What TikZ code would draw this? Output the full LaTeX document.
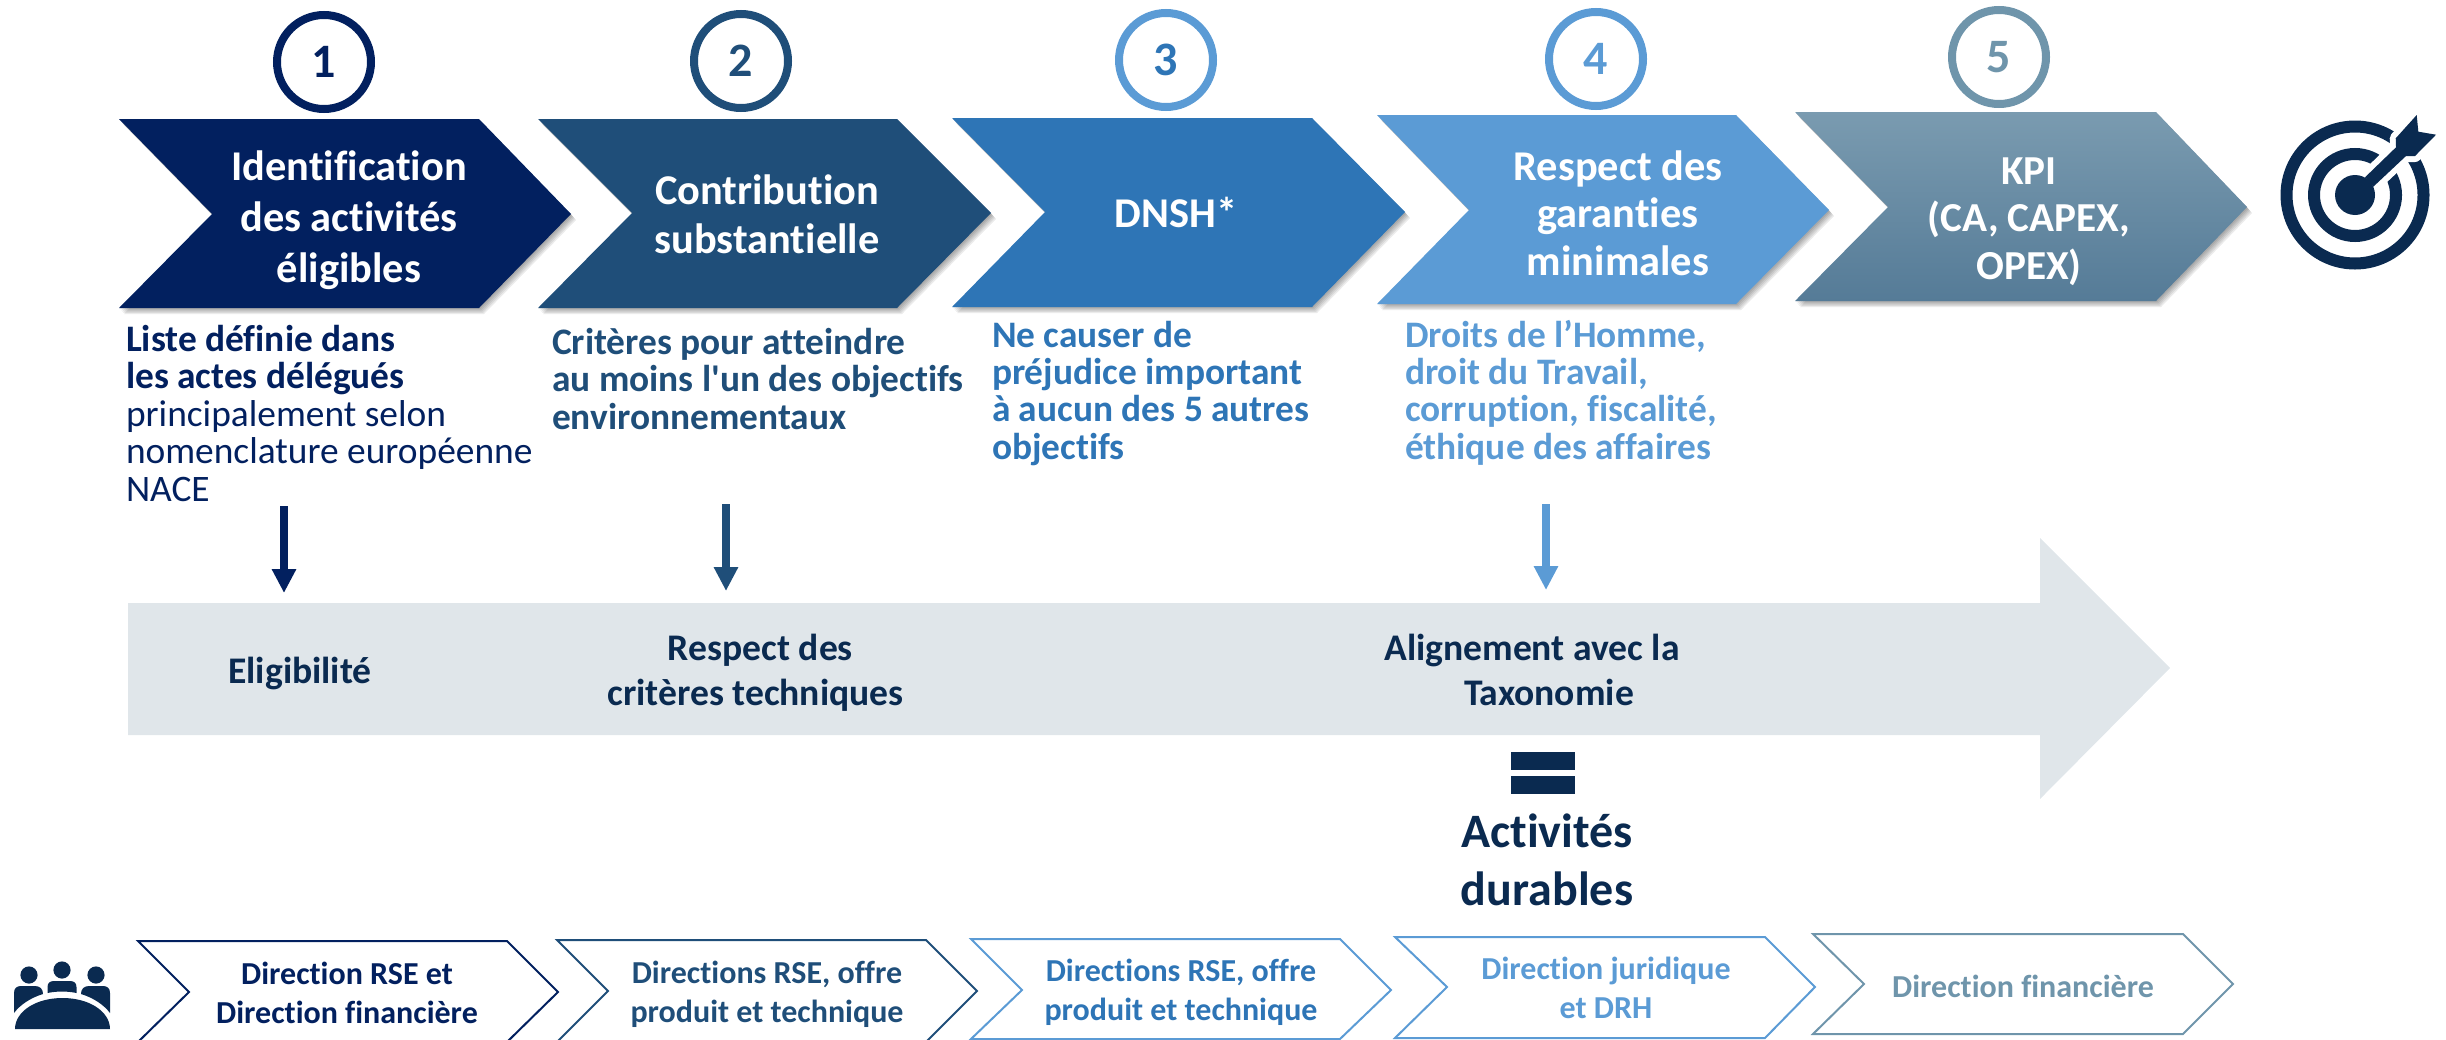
\documentclass[tikz,border=0pt]{standalone}
\usepackage{fontspec}
\setmainfont{Carlito}[Ligatures=NoCommon]
\newfontfamily\plainap{Carlito}[Ligatures=NoCommon]
\usetikzlibrary{arrows.meta}
\definecolor{cA}{HTML}{02205F}
\definecolor{cB}{HTML}{1F4E79}
\definecolor{cC}{HTML}{2E75B6}
\definecolor{cD}{HTML}{5B9BD5}
\definecolor{cE}{HTML}{6F95AB}
\definecolor{cEtop}{HTML}{7A9BB0}
\definecolor{cEbot}{HTML}{557B97}
\definecolor{ink}{HTML}{0A2A50}
\definecolor{band}{HTML}{E0E6EA}
\newcommand{\fs}[2]{\fontsize{#1pt}{#2pt}\selectfont}
\newcommand{\topchev}[8]{%
  \foreach \d in {1,...,5}{\fill[black,opacity=.08,shift={(\d,1.2*\d)}] (#1,#5) -- (#3,#5) -- (#4,#6) -- (#3,#7) -- (#1,#7) -- (#2,#6) -- cycle;}
  \path[#8] (#1,#5) -- (#3,#5) -- (#4,#6) -- (#3,#7) -- (#1,#7) -- (#2,#6) -- cycle;}
\newcommand{\lowchev}[8]{%
  \draw[#8,line width=1pt,line join=miter] (#1,#5) -- (#3,#5) -- (#4,#6) -- (#3,#7) -- (#1,#7) -- (#2,#6) -- cycle;}
\tikzset{
  x=0.5pt,y=-0.5pt,
  lbl/.style={inner sep=0pt,outer sep=0pt,align=center,anchor=base},
  head/.style={lbl,text=white,font=\fs{21.2}{25.5}\bfseries},
  desc/.style={inner sep=0pt,outer sep=0pt,align=left,anchor=base west,font=\fs{18.7}{18.7}},
  dirlbl/.style={lbl,font=\fs{16}{19.2}\bfseries},
  mid/.style={lbl,text=ink,font=\fs{18.8}{22.5}\bfseries},
  num/.style={circle,draw,fill=white,line width=4pt,minimum size=47pt,inner sep=0pt,font=\fs{24}{24}\bfseries},
  downarrow/.style={line width=4pt,-{Triangle[width=11.5pt,length=12pt]}},
  icon/.style={fill=ink,draw=none}
}
\begin{document}
\begin{tikzpicture}
\useasboundingbox (0,0) rectangle (2446,1039);
% big arrow
\fill[band] (128,603) -- (2040,603) -- (2040,538) -- (2170,668) -- (2040,799) -- (2040,735) -- (128,735) -- cycle;
% top chevrons
\topchev{119}{212}{479}{571}{119}{214}{308}{fill=cA}
\topchev{538}{632}{897}{991}{119}{213}{308}{fill=cB}
\topchev{952}{1045}{1312}{1405}{118}{212}{307}{fill=cC}
\topchev{1377}{1469}{1736}{1829}{115}{210}{304}{fill=cD}
\topchev{1795}{1888}{2156}{2247}{112}{207}{301}{top color=cEtop,bottom color=cEbot}
% circles
\node[num,draw=cA,text=cA] (n1) at (324,62) {1};
\node[num,draw=cB,text=cB] (n2) at (741,61) {2};
\node[num,draw=cD,text=cC] (n3) at (1166,60) {3};
\node[num,draw=cD,text=cD] (n4) at (1596,59) {4};
\node[num,draw=cE,text=cE] (n5) at (1999,57) {5};
% headings
\node[head] (h1) at (349,282) {Identification\\des activités\\éligibles};
\node[head,font=\fs{21.2}{24.5}\bfseries] (h2) at (767,253) {Contribution\\substantielle};
\node[head] (h3) at (1176,227) {DNSH*};
\node[head,font=\fs{21.2}{23.7}\bfseries] (h4) at (1618,275) {Respect des\\garanties\\minimales};
\node[head,font=\fs{20.6}{23.7}\bfseries] (h5) at (2029,279) {KPI\\(CA, CAPEX,\\OPEX)};
% descriptions
\node[desc,text=cA] (d1) at (126,501) {\textbf{Liste définie dans}\\\textbf{les actes délégués}\\principalement selon\\nomenclature européenne\\NACE};
\node[desc,text=cB,font=\fs{18.7}{18.6}\bfseries] (d2) at (552,429) {Critères pour atteindre\\au moins l{\plainap'}un des objectifs\\environnementaux};
\node[desc,text=cC,font=\fs{18.7}{18.6}\bfseries] (d3) at (992,459) {Ne causer de\\préjudice important\\à aucun des 5 autres\\objectifs};
\node[desc,text=cD,font=\fs{18.7}{18.6}\bfseries] (d4) at (1405,459) {Droits de l’Homme,\\droit du Travail,\\corruption, fiscalité,\\éthique des affaires};
% arrows
\coordinate (a1s) at (284,506); \coordinate (a1e) at (284,593);
\coordinate (a2s) at (726,504); \coordinate (a2e) at (726,591);
\coordinate (a3s) at (1546,504); \coordinate (a3e) at (1546,590);
\draw[downarrow,cA] (a1s) -- (a1e);
\draw[downarrow,cB] (a2s) -- (a2e);
\draw[downarrow,cD] (a3s) -- (a3e);
% band labels
\node[mid] (m1) at (300,683) {Eligibilité};
\node[mid] (m2) at (755.5,705) {\hspace*{5pt}Respect des\\critères techniques};
\node[mid] (m3) at (1540.5,705) {Alignement avec la\hspace*{8.5pt}\\\hspace*{8.5pt}Taxonomie};
% equals
\fill[ink] (1511,752) rectangle (1575,770);
\fill[ink] (1511,776) rectangle (1575,794);
\node[lbl,text=ink,font=\fs{24}{29}\bfseries] (act) at (1547,905) {Activités\\durables};
% bottom chevrons
\lowchev{138}{189}{507}{558}{941}{992}{1042}{cA}
\lowchev{557}{608}{926}{977}{940}{991}{1042}{cB}
\lowchev{971}{1022}{1340}{1391}{939}{990}{1039}{cD}
\lowchev{1395}{1447}{1765}{1815}{937}{987}{1038}{cD}
\lowchev{1813}{1864}{2183}{2233}{934}{984}{1034}{cE}
\node[dirlbl,text=cA] (b1) at (347,1023) {Direction RSE et\\Direction financière};
\node[dirlbl,text=cB] (b2) at (767,1022) {Directions RSE, offre\\produit et technique};
\node[dirlbl,text=cC] (b3) at (1181,1020) {Directions RSE, offre\\produit et technique};
\node[dirlbl,text=cD] (b4) at (1606,1018) {Direction juridique\\et DRH};
\node[dirlbl,text=cE] (b5) at (2023,997) {Direction financière};
% target icon
\draw[ink,line width=6pt] (2355,195) circle (68.5);
\draw[ink,line width=6pt] (2355,195) circle (41);
\draw[white,fill=white,line width=6pt,line join=round] (2365,177.3) -- (2396,147.3) -- (2395.7,138.3) -- (2416.7,115) -- (2418.3,131.7) -- (2436,134.7) -- (2415,156) -- (2406,156) -- (2373.3,186.7) -- cycle;
\fill[icon] (2355,195) circle (20);
\fill[icon] (2365,177.3) -- (2396,147.3) -- (2395.7,138.3) -- (2416.7,115) -- (2418.3,131.7) -- (2436,134.7) -- (2415,156) -- (2406,156) -- (2373.3,186.7) -- cycle;
% people icon
\fill[icon] (29,975) circle (8.6);
\fill[icon] (62,970) circle (8.6);
\fill[icon] (96,975) circle (8.6);
\fill[icon] (14,1013) -- (14,993) .. controls (14,988) and (17,986) .. (21,986) -- (35,986) .. controls (40,986) and (43,989) .. (43,994) .. controls (30,998) and (20,1005) .. (14,1013) -- cycle;
\fill[icon] (110,1013) -- (110,993) .. controls (110,988) and (107,986) .. (103,986) -- (89,986) .. controls (84,986) and (81,989) .. (81,994) .. controls (94,998) and (104,1005) .. (110,1013) -- cycle;
\fill[icon] (47.5,993) -- (47.5,987) .. controls (47.5,983) and (50,981) .. (54,981) -- (70,981) .. controls (74,981) and (76.5,983) .. (76.5,987) -- (76.5,993) .. controls (67,991) and (57,991) .. (47.5,993) -- cycle;
\fill[icon] (15,1029) .. controls (15,1012) and (35,998) .. (62.5,998) .. controls (90,998) and (110,1012) .. (110,1029) -- cycle;
\end{tikzpicture}
\end{document}
